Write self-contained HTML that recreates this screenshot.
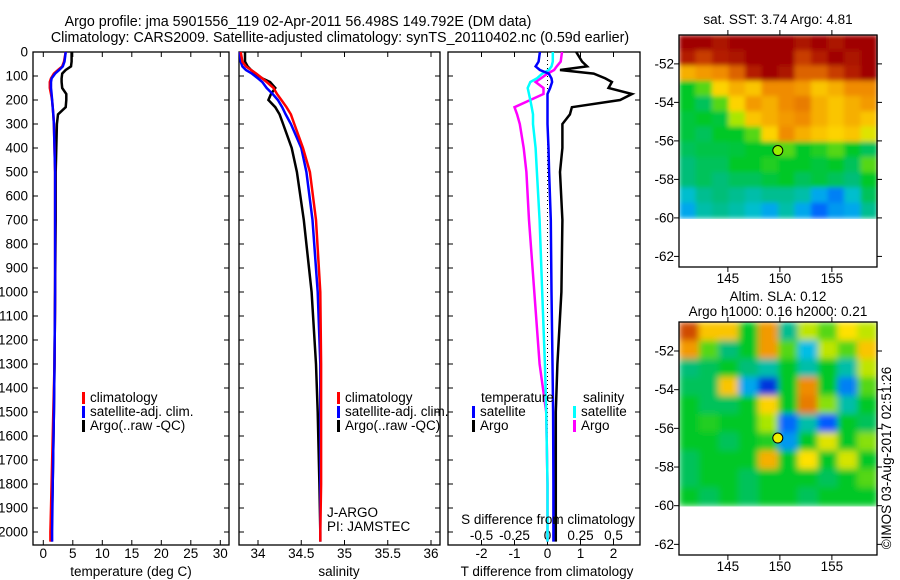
<!DOCTYPE html>
<html><head><meta charset="utf-8">
<style>
body{margin:0;background:#fff;}
svg{display:block;font-family:"Liberation Sans",sans-serif;font-size:13.5px;}
text{fill:#000;}
</style></head>
<body>
<svg id="chart" width="900" height="580" viewBox="0 0 900 580" xmlns="http://www.w3.org/2000/svg">
<defs>
<filter id="blur" x="0" y="0" width="1" height="1"><feGaussianBlur stdDeviation="3.2" edgeMode="duplicate"/></filter>
<filter id="blur2" x="0" y="0" width="1" height="1"><feGaussianBlur stdDeviation="2.5" edgeMode="duplicate"/></filter>
</defs>
<text x="298" y="26" text-anchor="middle" style="font-size:14.3px">Argo profile: jma 5901556_119 02-Apr-2011 56.498S 149.792E (DM data)</text>
<text x="340" y="42" text-anchor="middle" style="font-size:14.3px">Climatology: CARS2009. Satellite-adjusted climatology: synTS_20110402.nc (0.59d earlier)</text>
<g id="g"></g>
</svg>
<script>
// ---- data ----
const depths      = [0,40,60,75,90,110,125,150,175,200,230,260,300,400,500,700,1000,1300,1500,1800,2000,2040];
const tempArgo    = [4.8,4.8,4.7,3.8,3.2,3.1,3.1,3.2,3.9,3.9,3.8,2.5,2.3,2.2,2.1,2.1,2.0,1.9,1.8,1.6,1.4,1.4];
const tempClim    = [3.8,3.5,3.2,2.5,1.8,1.3,1.1,1.1,1.3,1.5,1.6,1.7,1.8,1.9,2.0,2.0,2.0,1.9,1.7,1.4,1.2,1.2];
const tempSat     = [3.8,3.6,3.3,2.7,2.0,1.4,1.3,1.3,1.4,1.5,1.6,1.7,1.8,1.9,2.0,2.0,2.0,1.9,1.8,1.6,1.5,1.5];
const salArgo     = [33.85,33.85,33.88,33.92,33.97,34.05,34.14,34.2,34.15,34.12,34.2,34.25,34.29,34.39,34.45,34.53,34.62,34.67,34.69,34.71,34.72,34.72];
const salClim     = [33.8,33.82,33.86,33.92,33.98,34.05,34.1,34.18,34.22,34.27,34.33,34.38,34.42,34.52,34.6,34.67,34.72,34.73,34.73,34.73,34.72,34.72];
const salSat      = [33.79,33.8,33.82,33.86,33.93,34.0,34.05,34.1,34.17,34.23,34.28,34.32,34.38,34.5,34.56,34.63,34.69,34.72,34.72,34.72,34.72,34.72];
const dTsat       = [-0.23,-0.27,-0.36,-0.23,0.04,0.12,0.14,0.08,0.0,0.0,0.0,0.0,0.0,0.03,0.05,0.1,0.12,0.15,0.17,0.18,0.18,0.18];
const dTargo      = [0.87,1.05,1.2,0.38,1.4,1.75,1.95,1.85,2.56,2.2,0.74,0.68,0.45,0.45,0.38,0.45,0.42,0.3,0.25,0.25,0.25,0.25];
const dSsat       = [0.04,0.04,0.03,0.01,-0.04,-0.08,-0.13,-0.15,-0.14,-0.13,-0.12,-0.11,-0.11,-0.09,-0.08,-0.06,-0.04,-0.02,-0.01,0,0,0];
const dSargo      = [0.11,0.1,0.07,0.05,0.0,-0.05,-0.09,-0.03,-0.03,-0.13,-0.25,-0.23,-0.21,-0.18,-0.16,-0.14,-0.1,-0.06,-0.01,0.0,0.0,0.0];
const depthTicks  = [0,100,200,300,400,500,600,700,800,900,1000,1100,1200,1300,1400,1500,1600,1700,1800,1900,2000];
const tempTicks   = [0,5,10,15,20,25,30];
const salTicks    = [34,34.5,35,35.5,36];
const salTickLabels = ["34","34.5","35","35.5","36"];
const dTTicks     = [-2,-1,0,1,2];
const dSTicks     = [-0.5,-0.25,0,0.25,0.5];
const dSTickLabels= ["-0.5","-0.25","0","0.25","0.5"];
const sstGrid = [
 [1,1,0.97,1,1,1,1,0.97,1,0.97,1,1],
 [0.95,0.9,0.95,0.97,1,1,1,0.9,0.95,1,0.97,1],
 [0.75,0.78,0.8,0.85,0.95,1,0.97,0.85,0.85,0.9,0.95,1],
 [0.5,0.55,0.7,0.75,0.72,0.8,0.8,0.78,0.72,0.75,0.8,0.8],
 [0.5,0.45,0.55,0.7,0.78,0.75,0.8,0.82,0.75,0.72,0.75,0.78],
 [0.48,0.5,0.48,0.6,0.72,0.75,0.78,0.8,0.75,0.72,0.75,0.72],
 [0.48,0.45,0.5,0.5,0.55,0.7,0.8,0.75,0.72,0.7,0.72,0.65],
 [0.45,0.47,0.47,0.48,0.5,0.5,0.55,0.5,0.52,0.55,0.5,0.45],
 [0.42,0.45,0.45,0.5,0.5,0.52,0.5,0.5,0.48,0.5,0.45,0.55],
 [0.42,0.45,0.42,0.45,0.45,0.48,0.5,0.45,0.48,0.45,0.42,0.5],
 [0.35,0.4,0.42,0.4,0.38,0.4,0.4,0.38,0.3,0.25,0.35,0.45],
 [0.3,0.38,0.4,0.38,0.35,0.3,0.38,0.3,0.22,0.28,0.3,0.4]];
const slaGrid = [
 [0.88,0.72,0.72,0.5,0.78,0.4,0.62,0.55,0.68,0.62],
 [0.78,0.55,0.42,0.5,0.78,0.55,0.33,0.62,0.55,0.72],
 [0.42,0.45,0.5,0.42,0.38,0.5,0.38,0.5,0.38,0.62],
 [0.45,0.45,0.72,0.3,0.12,0.5,0.8,0.5,0.25,0.55],
 [0.5,0.45,0.45,0.5,0.7,0.5,0.82,0.58,0.38,0.5],
 [0.5,0.52,0.5,0.5,0.6,0.22,0.38,0.2,0.5,0.45],
 [0.5,0.5,0.45,0.5,0.52,0.28,0.5,0.65,0.5,0.58],
 [0.45,0.5,0.5,0.5,0.75,0.5,0.68,0.5,0.64,0.5],
 [0.45,0.5,0.5,0.45,0.5,0.5,0.5,0.45,0.5,0.55],
 [0.5,0.45,0.5,0.45,0.5,0.5,0.45,0.5,0.5,0.5]];
const latTicks = [-52,-54,-56,-58,-60,-62];
const lonTicks = [145,150,155];
const argoLon = 149.8, argoLat = -56.5;

// ---- helpers ----
const NS="http://www.w3.org/2000/svg";
const G=document.getElementById('g');
function el(tag,attrs,parent){const e=document.createElementNS(NS,tag);for(const k in attrs)e.setAttribute(k,attrs[k]);(parent||G).appendChild(e);return e;}
function txt(s,x,y,anchor,parent){const t=el('text',{x:x,y:y,'text-anchor':anchor||'start'},parent);t.textContent=s;return t;}
const yD = d => 52 + d*0.24;
const PT=52, PB=545;
const xT = v => 43.3 + v*5.9;
const xS = v => 258 + (v-34)*86.5;
const xDT = v => 547.5 + v*33;
const xDS = v => 547.5 + v*132;

function panel(name,x0,x1){
  const r=el('rect',{x:x0,y:PT,width:x1-x0,height:PB-PT,fill:'none',stroke:'#000','stroke-width':1.3});
  
  
  depthTicks.forEach(d=>{el('line',{x1:x0,x2:x0+5,y1:yD(d),y2:yD(d),stroke:'#000'});el('line',{x1:x1-5,x2:x1,y1:yD(d),y2:yD(d),stroke:'#000'});});
}
function profile(name,vals,fx,color,w){
  let pts=[];
  depths.forEach((d,i)=>{pts.push(fx(vals[i]).toFixed(1)+','+yD(d).toFixed(1));});
  const p=el('polyline',{points:pts.join(' '),fill:'none',stroke:color,'stroke-width':w||2.5,'stroke-linejoin':'miter'});
  
  
}
function xticks(ticks,labels,fx,ylab,top){
  ticks.forEach((t,i)=>{const x=fx(t);
    el('line',{x1:x,x2:x,y1:PB-5,y2:PB,stroke:'#000'});
    if(top)el('line',{x1:x,x2:x,y1:PT,y2:PT+5,stroke:'#000'});
    const l=txt(labels[i],x,ylab,'middle');
    
    
  });
}
function legend(x,y,color,label){
  el('rect',{x:x,y:y-10,width:3,height:12,fill:color});
  const l=txt(label,x+8,y);
  
  
}

depthTicks.forEach(d=>{const l=txt(String(d),28,yD(d)+4.5,'end');
  
  });

// Panel 1
panel('temperature-panel',33,229);
xticks(tempTicks,tempTicks.map(String),xT,558,true);
profile('temp-argo-line',tempArgo,xT,'#000');
profile('temp-clim-line',tempClim,xT,'#f00');
profile('temp-sat-line',tempSat,xT,'#00f');
const a1=txt('temperature (deg C)',131,576,'middle');
legend(82,402,'#f00','climatology');legend(82,416,'#00f','satellite-adj. clim.');legend(82,430,'#000','Argo(..raw -QC)');

// Panel 2
panel('salinity-panel',239,440);
xticks(salTicks,salTickLabels,xS,558,true);
profile('sal-argo-line',salArgo,xS,'#000');
profile('sal-sat-line',salSat,xS,'#00f');
profile('sal-clim-line',salClim,xS,'#f00');
const a2=txt('salinity',339,576,'middle');
legend(337,402,'#f00','climatology');legend(337,416,'#00f','satellite-adj. clim.');legend(337,430,'#000','Argo(..raw -QC)');
txt('J-ARGO',327,517);txt('PI: JAMSTEC',327,531);

// Panel 3
panel('difference-panel',448,640);
xticks(dTTicks,dTTicks.map(String),xDT,558,true);
dSTicks.forEach((t,i)=>{const l=txt(dSTickLabels[i],xDS(t),540,'middle');});
el('line',{x1:xDT(0),x2:xDT(0),y1:PT,y2:PB,stroke:'#000','stroke-dasharray':'1,3'});
profile('dS-argo-line',dSargo,xDS,'#f0f');
profile('dS-sat-line',dSsat,xDS,'#0ff');
profile('dT-argo-line',dTargo,xDT,'#000');
profile('dT-sat-line',dTsat,xDT,'#00f');
txt('S difference from climatology',548,524,'middle');
const a3=txt('T difference from climatology',547,576,'middle');
txt('temperature',481,402);txt('salinity',583,402);
legend(472,416,'#00f','satellite');legend(472,430,'#000','Argo');
legend(573,416,'#0ff','satellite');legend(573,430,'#f0f','Argo');

const cmStops=[[0,[0,0,170]],[0.2,[0,90,255]],[0.33,[0,190,230]],[0.42,[0,190,120]],[0.5,[0,200,40]],[0.6,[170,230,0]],[0.68,[255,225,0]],[0.8,[240,140,0]],[0.9,[200,60,0]],[1,[160,0,0]]];
function cmap(v){v=Math.max(0,Math.min(1,v));
  for(let i=1;i<cmStops.length;i++){if(v<=cmStops[i][0]){const a=cmStops[i-1],b=cmStops[i],t=(v-a[0])/(b[0]-a[0]);
    return 'rgb('+a[1].map((c,k)=>Math.round(c+(b[1][k]-c)*t)).join(',')+')';}}
  return 'rgb(160,0,0)';}

function map(name,grid,top,bottom,circleColor,filt){
  const L=679,R=877;
  const lonX = lon => L + (lon-140.3)*10.4;
  const latY = lat => top + (-50.5-lat)*((bottom-top)/12.05);
  const rows=grid.length, cols=grid[0].length;
  const cw=(R-L)/cols, rh=(latY(-60)-top)/rows;
  const gg=el('g',{filter:filt});
  
  
  grid.forEach((row,i)=>row.forEach((v,j)=>{
    const c=el('rect',{x:L+j*cw,y:top+i*rh,width:cw+0.6,height:rh+0.6,fill:cmap(v)},gg);
    
    
  }));
  el('rect',{x:L,y:top,width:R-L,height:bottom-top,fill:'none',stroke:'#000','stroke-width':1.3});
  latTicks.forEach(t=>{const y=latY(t);
    el('line',{x1:L-5,x2:L,y1:y,y2:y,stroke:'#000'});el('line',{x1:R,x2:R+5,y1:y,y2:y,stroke:'#000'});
    const l=txt(String(t),674,y+4.5,'end');});
  lonTicks.forEach(t=>{const x=lonX(t);
    el('line',{x1:x,x2:x,y1:top-5,y2:top,stroke:'#000'});el('line',{x1:x,x2:x,y1:bottom,y2:bottom+5,stroke:'#000'});
    const l=txt(String(t),x,bottom+16,'middle');});
  const c=el('circle',{cx:lonX(argoLon),cy:latY(argoLat),r:5,fill:circleColor,stroke:'#000','stroke-width':1});
  
  
}
map('sst-map',sstGrid,35,267,'#9e0','url(#blur2)');
map('sla-map',slaGrid,322,555,'#ee0','url(#blur)');
txt('sat. SST: 3.74  Argo: 4.81',778,24,'middle');
txt('Altim. SLA: 0.12',778,301,'middle');
txt('Argo h1000: 0.16 h2000: 0.21',778,316,'middle');
const cr=txt('©IMOS 03-Aug-2017 02:51:26',0,0,'middle');
cr.setAttribute('transform','translate(891,458) rotate(-90)');


</script>
</body></html>
